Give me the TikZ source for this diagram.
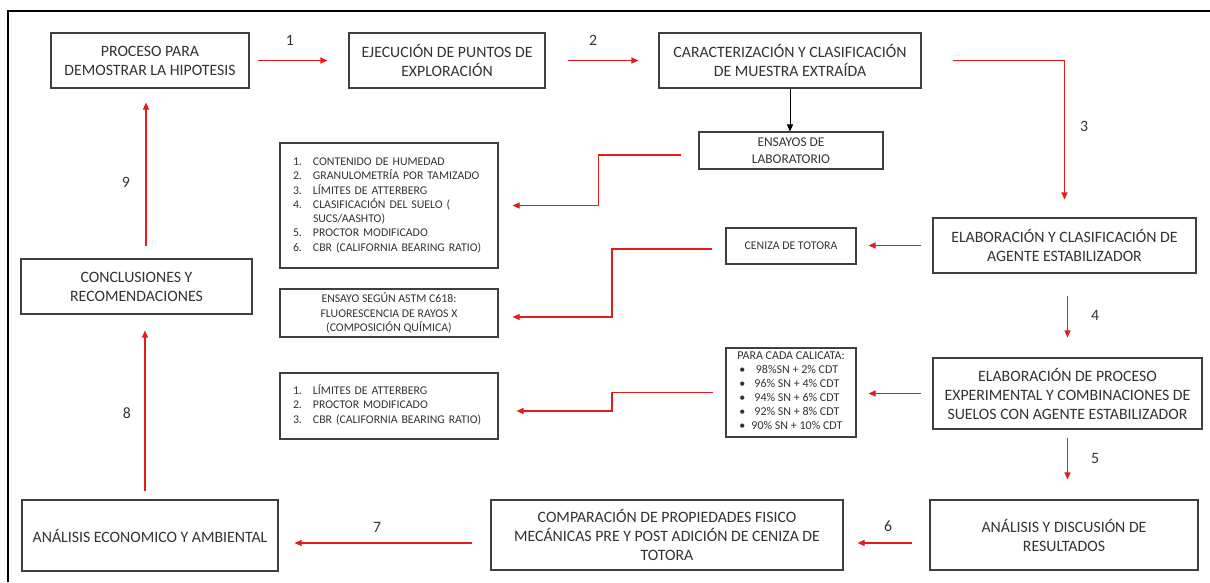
\documentclass[tikz,border=0pt]{standalone}
\usepackage{fontspec}
\setmainfont{Carlito}
\usepackage{tikz}
\usetikzlibrary{arrows.meta, calc}
\setlength{\parindent}{0pt}
\definecolor{flowred}{HTML}{E21B1B}
\definecolor{boxink}{HTML}{333333}
\definecolor{boxline}{HTML}{3F3F3F}
\tikzset{
  mbox/.style={draw=boxline, fill=white, align=center, inner sep=2pt, line width=1.1pt,
    text=boxink, font=\fontsize{15.8}{19}\selectfont},
  sbox/.style={draw=boxline, fill=white, align=center, inner sep=2pt, line width=1.1pt,
    text=boxink, font=\fontsize{11.8}{14.3}\selectfont},
  lbox/.style={sbox, align=left, text width=192pt, inner xsep=13pt},
  flow/.style={-{Triangle[length=7pt,width=6pt]}, draw=flowred, line width=1.1pt},
  kflow/.style={-{Triangle[length=7pt,width=6pt]}, draw=black, line width=1pt},
  numlbl/.style={text=boxink, font=\fontsize{15.8}{19}\selectfont, inner sep=0pt}
}

\begin{document}
\begin{tikzpicture}[x=1pt, y=-1pt]
\fill[white] (0,0) rectangle (1210,582);
\useasboundingbox (0,0) rectangle (1210,582);
\draw[line width=2.6pt] (8,582) -- (8,11) -- (1210,11);

% main chain
\node[mbox, minimum width=198pt, minimum height=55pt] (proc) at (150,60.5) {PROCESO PARA\\DEMOSTRAR LA HIPOTESIS};
\node[mbox, minimum width=196pt, minimum height=55pt] (ejec) at (447,60.5) {EJECUCIÓN DE PUNTOS DE\\EXPLORACIÓN};
\node[mbox, minimum width=262pt, minimum height=55pt] (caract) at (790,60.5) {CARACTERIZACIÓN Y CLASIFICACIÓN\\DE MUESTRA EXTRAÍDA};
\node[mbox, minimum width=263pt, minimum height=55pt] (elab) at (1064.5,245.5) {ELABORACIÓN Y CLASIFICACIÓN DE\\AGENTE ESTABILIZADOR};
\node[mbox, minimum width=269pt, minimum height=71pt] (exper) at (1067.5,393.5) {ELABORACIÓN DE PROCESO\\EXPERIMENTAL Y COMBINACIONES DE\\SUELOS CON AGENTE ESTABILIZADOR};
\node[mbox, minimum width=268pt, minimum height=70pt] (result) at (1064,535) {ANÁLISIS Y DISCUSIÓN DE\\RESULTADOS};
\node[mbox, minimum width=352pt, minimum height=70pt] (comp) at (667,535) {COMPARACIÓN DE PROPIEDADES FISICO\\MECÁNICAS PRE Y POST ADICIÓN DE CENIZA DE\\TOTORA};
\node[mbox, minimum width=256pt, minimum height=71pt] (econ) at (150,535.5) {ANÁLISIS ECONOMICO Y AMBIENTAL};
\node[mbox, minimum width=231pt, minimum height=55pt] (concl) at (136.5,286.5) {CONCLUSIONES Y\\RECOMENDACIONES};

% side boxes
\node[mbox, font=\fontsize{13.4}{16.5}\selectfont, minimum width=184pt, minimum height=37pt, inner sep=1pt] (ensayos) at (791,150.5) {ENSAYOS DE\\LABORATORIO};
\node[sbox, minimum width=130pt, minimum height=36pt] (ceniza) at (791,246) {CENIZA DE TOTORA};
\node[sbox, font=\fontsize{12}{14}\selectfont, minimum width=130pt, minimum height=89pt, inner sep=1pt] (para) at (791,392.5) {%
  PARA CADA CALICATA:\\
  \begin{tabular}[t]{@{}c@{\hspace{6pt}}c@{}}
  \textbullet & 98\%SN + 2\% CDT\\
  \textbullet & 96\% SN + 4\% CDT\\
  \textbullet & 94\% SN + 6\% CDT\\
  \textbullet & 92\% SN + 8\% CDT\\
  \textbullet & 90\% SN + 10\% CDT
  \end{tabular}};
\node[lbox, minimum height=125pt] (labs) at (389,205.5) {%
  \begin{tabular}{@{}p{20pt}@{}l@{}}
  1. & CONTENIDO DE HUMEDAD\\
  2. & GRANULOMETRÍA POR TAMIZADO\\
  3. & LÍMITES DE ATTERBERG\\
  4. & CLASIFICACIÓN DEL SUELO (\\
     & SUCS/AASHTO)\\
  5. & PROCTOR MODIFICADO\\
  6. & CBR (CALIFORNIA BEARING RATIO)
  \end{tabular}};
\node[sbox, minimum width=218pt, minimum height=48pt] (astm) at (389,313) {ENSAYO SEGÚN ASTM C618:\\FLUORESCENCIA DE RAYOS X\\(COMPOSICIÓN QUÍMICA)};
\node[lbox, minimum height=66pt] (lab2) at (389,406) {%
  \begin{tabular}{@{}p{20pt}@{}l@{}}
  1. & LÍMITES DE ATTERBERG\\
  2. & PROCTOR MODIFICADO\\
  3. & CBR (CALIFORNIA BEARING RATIO)
  \end{tabular}};

% step numbers
\node[numlbl] (n1) at (290,40) {1};
\node[numlbl] (n2) at (593,40) {2};
\node[numlbl] (n3) at (1084,126) {3};
\node[numlbl] (n4) at (1095,315) {4};
\node[numlbl] (n5) at (1095,458) {5};
\node[numlbl] (n6) at (888,526) {6};
\node[numlbl] (n7) at (377,527) {7};
\node[numlbl] (n8) at (127,413) {8};
\node[numlbl] (n9) at (126,182) {9};

% connectors
\draw[flow, shorten <=8pt, shorten >=21pt] (proc.east) -- (ejec.west);
\draw[flow, shorten <=22pt, shorten >=20pt] (ejec.east) -- (caract.west);
\draw[flow] ([xshift=31pt]caract.east) -| ([yshift=18pt]elab.north);
\draw[kflow] (caract.south) -- (caract.south |- ensayos.north);
\draw[flow] ([xshift=-17pt,yshift=-4.5pt]ensayos.west) -| ($(labs.east)!.5!(ensayos.west)$) |- ([xshift=14pt]labs.east);
\draw[flow, shorten <=11pt, shorten >=12pt] (elab.west) -- (elab.west -| ceniza.east);
\draw[flow] ([xshift=-13pt,yshift=-3pt]ceniza.west) -| ($(astm.east)!.5!(ceniza.west)$) |- ([xshift=14pt,yshift=-4pt]astm.east);
\draw[flow, shorten <=22pt, shorten >=20pt] (exper.north |- elab.south) -- (exper.north);
\draw[flow, shorten <=11pt, shorten >=12pt] (exper.west) -- (exper.west -| para.east);
\draw[flow] ([xshift=-12pt]para.west) -| ($(lab2.east)!.5!(para.west)$) |- ([xshift=18pt,yshift=-5pt]lab2.east);
\draw[flow, shorten <=8pt, shorten >=20pt] (exper.south) -- (exper.south |- result.north);
\draw[flow, shorten <=17pt, shorten >=14pt] ([yshift=-8pt]result.west) -- ([yshift=-8pt]result.west -| comp.east);
\draw[flow, shorten <=18pt, shorten >=16pt] ([yshift=-8pt]comp.west) -- ([yshift=-8pt]comp.west -| econ.east);
\draw[flow, shorten <=8pt, shorten >=16pt] ([xshift=-5pt]econ.north) -- ([xshift=-5pt]econ.north |- concl.south);
\draw[flow, shorten <=12pt, shorten >=14pt] ([xshift=-4pt]proc.south |- concl.north) -- ([xshift=-4pt]proc.south);
\end{tikzpicture}
\end{document}
